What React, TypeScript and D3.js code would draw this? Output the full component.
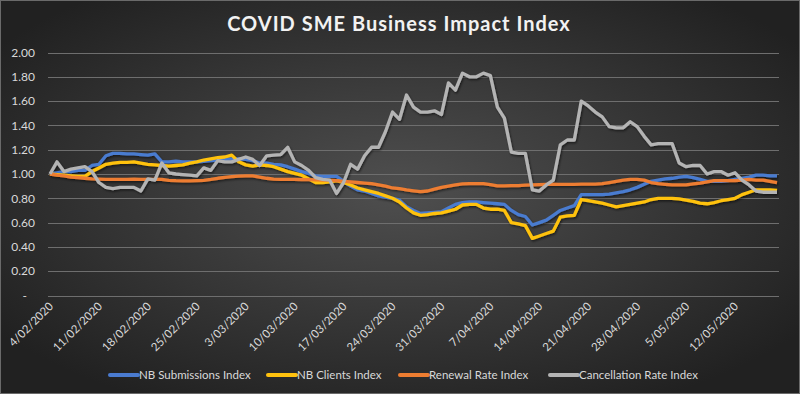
import { useEffect, useRef } from "react"
import * as d3 from "d3"

// daily values from 4/02/2020 to 18/05/2020
const startDate = new Date(2020, 1, 4)

const submissions = [
  1.0, 1.01, 1.02, 1.02, 1.03, 1.03, 1.07, 1.08, 1.15, 1.17,
  1.17, 1.165, 1.165, 1.16, 1.155, 1.165, 1.1, 1.1, 1.105, 1.1,
  1.1, 1.1, 1.105, 1.11, 1.115, 1.12, 1.125, 1.125, 1.12, 1.11,
  1.09, 1.09, 1.08, 1.075, 1.06, 1.04, 1.02, 1.005, 0.985, 0.98,
  0.98, 0.98, 0.94, 0.9, 0.87, 0.86, 0.84, 0.82, 0.81, 0.8,
  0.785, 0.73, 0.7, 0.675, 0.68, 0.685, 0.69, 0.72, 0.75, 0.765,
  0.77, 0.77, 0.765, 0.76, 0.755, 0.75, 0.7, 0.665, 0.65, 0.58,
  0.6, 0.62, 0.66, 0.7, 0.72, 0.74, 0.83, 0.83, 0.83, 0.83,
  0.835, 0.845, 0.855, 0.87, 0.89, 0.915, 0.94, 0.95, 0.96, 0.965,
  0.975, 0.98, 0.97, 0.955, 0.94, 0.94, 0.94, 0.945, 0.955, 0.965,
  0.975, 0.99, 0.99, 0.985, 0.985,
]

const clients = [
  1.0, 0.995, 0.99, 0.985, 0.98, 0.98, 1.02, 1.05, 1.08, 1.09,
  1.095, 1.095, 1.1, 1.09, 1.08, 1.075, 1.07, 1.065, 1.07, 1.075,
  1.09, 1.1, 1.115, 1.125, 1.135, 1.14, 1.155, 1.1, 1.075, 1.065,
  1.075, 1.07, 1.06, 1.04, 1.02, 1.005, 0.99, 0.96, 0.93, 0.93,
  0.935, 0.945, 0.93, 0.91, 0.885, 0.87, 0.855, 0.84, 0.82, 0.8,
  0.77, 0.72, 0.68, 0.66, 0.665, 0.675, 0.68, 0.695, 0.71, 0.745,
  0.75, 0.75, 0.72, 0.71, 0.71, 0.7, 0.6, 0.59, 0.575, 0.47,
  0.49, 0.51, 0.53, 0.645, 0.655, 0.66, 0.79, 0.78, 0.77, 0.76,
  0.745, 0.73, 0.74, 0.75, 0.76, 0.77, 0.79, 0.8, 0.8, 0.8,
  0.795, 0.785, 0.775, 0.76, 0.755, 0.765, 0.78, 0.79, 0.8, 0.83,
  0.85, 0.87, 0.87, 0.87, 0.865,
]

const renewal = [
  1.0, 0.99, 0.985, 0.975, 0.97, 0.965, 0.96, 0.958, 0.956, 0.955,
  0.955, 0.956, 0.957, 0.956, 0.955, 0.955, 0.955, 0.948, 0.945, 0.944,
  0.944, 0.946, 0.947, 0.955, 0.965, 0.972, 0.978, 0.982, 0.985, 0.985,
  0.975, 0.965, 0.958, 0.955, 0.955, 0.955, 0.954, 0.954, 0.952, 0.95,
  0.948, 0.945, 0.94, 0.935, 0.93, 0.925, 0.92, 0.91, 0.9, 0.885,
  0.88, 0.87, 0.862, 0.855, 0.86, 0.875, 0.89, 0.9, 0.91, 0.918,
  0.92, 0.92, 0.92, 0.912, 0.902, 0.902, 0.905, 0.905, 0.908, 0.91,
  0.912, 0.915, 0.915, 0.915, 0.915, 0.915, 0.916, 0.916, 0.917, 0.92,
  0.93, 0.94, 0.95, 0.955, 0.955, 0.95, 0.93, 0.92, 0.915, 0.91,
  0.91, 0.91, 0.918, 0.925, 0.935, 0.945, 0.945, 0.945, 0.945, 0.95,
  0.955, 0.95, 0.95, 0.94, 0.93,
]

const cancellation = [
  1.0, 1.1, 1.02, 1.04, 1.05, 1.06, 1.02, 0.93, 0.89, 0.88,
  0.89, 0.89, 0.89, 0.86, 0.96, 0.95, 1.09, 1.01, 1.0, 0.995,
  0.99, 0.985, 1.05, 1.03, 1.11, 1.1, 1.1, 1.12, 1.14, 1.12,
  1.07, 1.15, 1.155, 1.16, 1.22, 1.1, 1.07, 1.03, 0.97, 0.955,
  0.95, 0.84, 0.93, 1.08, 1.04, 1.15, 1.22, 1.22, 1.35, 1.51,
  1.45, 1.65, 1.55, 1.51, 1.51, 1.52, 1.49, 1.75, 1.69, 1.83,
  1.8, 1.8, 1.83, 1.81, 1.55, 1.46, 1.18, 1.17, 1.17, 0.87,
  0.86, 0.91, 0.95, 1.24, 1.28, 1.28, 1.6, 1.56, 1.51, 1.47,
  1.39, 1.38, 1.38, 1.43, 1.39, 1.31, 1.24, 1.25, 1.25, 1.25,
  1.09, 1.06, 1.07, 1.07, 1.0, 1.02, 1.02, 0.99, 1.01, 0.95,
  0.91, 0.86, 0.85, 0.85, 0.85,
]

const yTicks = [0, 0.2, 0.4, 0.6, 0.8, 1.0, 1.2, 1.4, 1.6, 1.8, 2.0]

const series = [
  { name: "NB Submissions Index", values: submissions, color: "#4a7bd0" },
  { name: "NB Clients Index", values: clients, color: "#ffc20e" },
  { name: "Renewal Rate Index", values: renewal, color: "#ed7d31" },
  { name: "Cancellation Rate Index", values: cancellation, color: "#b4b4b4" },
]

const FONT = "Lato, 'Open Sans', sans-serif"

export default function App() {
  const svgRef = useRef<SVGSVGElement>(null)

  useEffect(() => {
    if (!svgRef.current) return
    document.body.style.margin = "0"

    const width = 800
    const height = 394
    const svg = d3.select(svgRef.current)
    svg.selectAll("*").remove()
    svg.attr("width", width).attr("height", height)

    // background
    const defs = svg.append("defs")
    const grad = defs
      .append("radialGradient")
      .attr("id", "bg")
      .attr("cx", "50%")
      .attr("cy", "48%")
      .attr("r", "62%")
    grad.append("stop").attr("offset", "0%").attr("stop-color", "#4f4f4f")
    grad.append("stop").attr("offset", "100%").attr("stop-color", "#212121")

    const shadow = defs.append("filter").attr("id", "shadow").attr("x", "-5%").attr("y", "-20%").attr("width", "110%").attr("height", "140%")
    shadow
      .append("feDropShadow")
      .attr("dx", 1)
      .attr("dy", 1.5)
      .attr("stdDeviation", 1.2)
      .attr("flood-color", "#000")
      .attr("flood-opacity", 0.55)

    svg.append("rect").attr("width", width).attr("height", height).attr("fill", "url(#bg)")
    svg
      .append("rect")
      .attr("x", 0.5)
      .attr("y", 0.5)
      .attr("width", width - 1)
      .attr("height", height - 1)
      .attr("fill", "none")
      .attr("stroke", "#6a6a6a")

    const dates = submissions.map((_, i) => d3.timeDay.offset(startDate, i))

    const x = d3
      .scaleTime()
      .domain([dates[0], dates[dates.length - 1]])
      .range([50, 777])

    const y = d3.scaleLinear().domain([0, 2]).range([295.5, 52.5])

    // title
    svg
      .append("text")
      .attr("x", 399)
      .attr("y", 31)
      .attr("text-anchor", "middle")
      .attr("fill", "#f2f2f2")
      .style("font-family", FONT)
      .style("font-size", "20px")
      .style("font-weight", 700)
      .style("letter-spacing", "1px")
      .text("COVID SME Business Impact Index")

    // grid
    svg
      .append("g")
      .selectAll("line")
      .data(yTicks)
      .join("line")
      .attr("x1", 48)
      .attr("x2", 779)
      .attr("y1", (d) => Math.round(y(d)) + 0.5)
      .attr("y2", (d) => Math.round(y(d)) + 0.5)
      .attr("stroke", "#6e6e6e")
      .attr("stroke-width", 1)

    // y labels
    svg
      .append("g")
      .selectAll("text")
      .data(yTicks)
      .join("text")
      .attr("x", (d) => (d === 0 ? 27 : 35))
      .attr("y", (d) => y(d))
      .attr("dy", "0.35em")
      .attr("text-anchor", "end")
      .attr("fill", "#d9d9d9")
      .style("font-family", FONT)
      .style("font-size", "12px")
      .text((d) => (d === 0 ? "-" : d3.format(".2f")(d)))

    // x labels
    const xTicks = d3.timeDay.range(dates[0], dates[dates.length - 1], 7)
    const fmt = d3.timeFormat("%-d/%m/%Y")
    svg
      .append("g")
      .selectAll("text")
      .data(xTicks)
      .join("text")
      .attr("transform", (d) => `translate(${x(d) + 4},${307}) rotate(-45)`)
      .attr("text-anchor", "end")
      .attr("fill", "#d9d9d9")
      .style("font-family", FONT)
      .style("font-size", "11.5px")
      .text((d) => fmt(d))

    // lines
    const line = d3
      .line<number>()
      .x((_, i) => x(dates[i]))
      .y((d) => y(d))

    svg
      .append("g")
      .attr("filter", "url(#shadow)")
      .selectAll("path")
      .data(series)
      .join("path")
      .attr("d", (s) => line(s.values))
      .attr("fill", "none")
      .attr("stroke", (s) => s.color)
      .attr("stroke-width", 3.3)
      .attr("stroke-linejoin", "round")

    // legend
    const legendX = [110, 268, 400, 550]
    const legend = svg
      .append("g")
      .selectAll("g")
      .data(series)
      .join("g")
      .attr("transform", (_, i) => `translate(${legendX[i]},375)`)
    legend
      .append("line")
      .attr("x1", 0)
      .attr("x2", 28)
      .attr("stroke", (s) => s.color)
      .attr("stroke-width", 4)
      .attr("stroke-linecap", "round")
    legend
      .append("text")
      .attr("x", 29)
      .attr("dy", "0.35em")
      .attr("fill", "#d9d9d9")
      .style("font-family", FONT)
      .style("font-size", "11.5px")
      .text((s) => s.name)
  }, [])

  return <svg ref={svgRef} style={{ display: "block" }}></svg>
}
